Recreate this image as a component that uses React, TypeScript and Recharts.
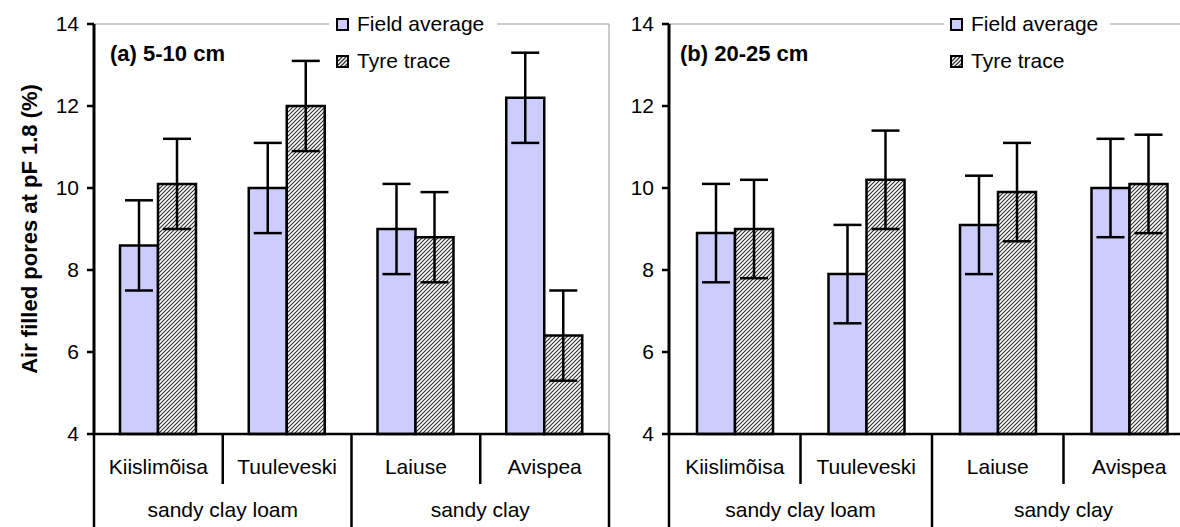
import React from 'react';
import { BarChart, Bar, XAxis, YAxis, ErrorBar, Legend, ReferenceArea } from 'recharts';

const categories = ['Kiislimõisa', 'Tuuleveski', 'Laiuse', 'Avispea'];
const groupLabels = ['sandy clay loam', 'sandy clay'];
const groupSizes = [2, 2];
const yTicks = [4, 6, 8, 10, 12, 14];
const seriesNames = ['Field average', 'Tyre trace'];
const panelTitles = ['(a) 5-10 cm', '(b) 20-25 cm'];
const yAxisTitle = 'Air filled pores at pF 1.8 (%)';

const aField = [8.6, 10.0, 9.0, 12.2];
const aFieldErr = [1.1, 1.1, 1.1, 1.1];
const aTyre = [10.1, 12.0, 8.8, 6.4];
const aTyreErr = [1.1, 1.1, 1.1, 1.1];

const bField = [8.9, 7.9, 9.1, 10.0];
const bFieldErr = [1.2, 1.2, 1.2, 1.2];
const bTyre = [9.0, 10.2, 9.9, 10.1];
const bTyreErr = [1.2, 1.2, 1.2, 1.2];

const FONT = '"Liberation Sans", Arial, Helvetica, sans-serif';
const FS = 21;
const FSB = 22;

const build = (f: number[], fe: number[], t: number[], te: number[]) =>
  categories.map((name, i) => ({ name, field: f[i], fieldErr: fe[i], tyre: t[i], tyreErr: te[i] }));

const dataA = build(aField, aFieldErr, aTyre, aTyreErr);
const dataB = build(bField, bFieldErr, bTyre, bTyreErr);

const groupStarts = groupSizes.map((_, g) => groupSizes.slice(0, g).reduce((s, v) => s + v, 0));

const makeTick = (fallbackHalf: number) => (props: any) => {
  const { x, y, payload } = props;
  const i: number = props.index ?? payload.index ?? 0;
  const half: number = payload && payload.offset ? payload.offset : fallbackHalf;
  const bw = half * 2;
  const left = x - half;
  const gi = groupStarts.indexOf(i);
  const isLast = i === categories.length - 1;
  return (
    <g>
      <line x1={left} y1={y} x2={left} y2={y + (gi >= 0 ? 100 : 50)} stroke="#000" strokeWidth={2.5} />
      {isLast && <line x1={x + half} y1={y} x2={x + half} y2={y + 100} stroke="#000" strokeWidth={2.5} />}
      <text x={x} y={y + 40} textAnchor="middle" fontSize={FS} fill="#000" fontFamily={FONT}>
        {payload.value}
      </text>
      {gi >= 0 && (
        <text x={left + (groupSizes[gi] * bw) / 2} y={y + 83} textAnchor="middle" fontSize={FS} fill="#000" fontFamily={FONT}>
          {groupLabels[gi]}
        </text>
      )}
    </g>
  );
};

const Swatch = ({ hatch, id }: { hatch: boolean; id: string }) => (
  <svg width={13} height={13} style={{ marginRight: 8, display: 'block' }}>
    <defs>
      <pattern id={id} patternUnits="userSpaceOnUse" width={4} height={4}>
        <rect width={4} height={4} fill="#fff" />
        <path d="M-1,1 l2,-2 M0,4 l4,-4 M3,5 l2,-2" stroke="#333" strokeWidth={1.3} />
      </pattern>
    </defs>
    <rect x={1} y={1} width={11} height={11} fill={hatch ? `url(#${id})` : '#CCCCFF'} stroke="#000" strokeWidth={2} />
  </svg>
);

const makeLegend = (prefix: string, padLeft: number) => (props: any) => {
  const payload = props.payload || [];
  return (
    <div style={{ background: '#fff', paddingLeft: padLeft, fontFamily: FONT, fontSize: FS, color: '#000' }}>
      {payload.map((e: any, i: number) => (
        <div key={i} style={{ display: 'flex', alignItems: 'center', height: 37, whiteSpace: 'nowrap' }}>
          <Swatch hatch={i === 1} id={`${prefix}-sw-${i}`} />
          <span>{e.value}</span>
        </div>
      ))}
    </div>
  );
};

const YTitle = (props: any) => {
  const vb = props.viewBox || { x: 0, y: 24, width: 94, height: 410 };
  const cx = vb.x + 29;
  const cy = vb.y + vb.height / 2;
  return (
    <text
      x={cx}
      y={cy}
      transform={`rotate(-90, ${cx}, ${cy})`}
      textAnchor="middle"
      dominantBaseline="central"
      fontSize={FSB}
      fontWeight="bold"
      fill="#000"
      fontFamily={FONT}
    >
      {yAxisTitle}
    </text>
  );
};

type PanelProps = {
  data: any[];
  left: number;
  width: number;
  yWidth: number;
  right: number;
  plotW: number;
  showTitle: boolean;
  hatchId: string;
  legendLeft: number;
  legendPad: number;
  legendWidth: number;
};

const Panel = (p: PanelProps) => (
  <div style={{ position: 'absolute', left: p.left, top: 0 }}>
    <BarChart
      width={p.width}
      height={527}
      data={p.data}
      margin={{ top: 24, right: p.right, left: 0, bottom: 0 }}
      barGap={0}
    >
      <defs>
        <pattern id={p.hatchId} patternUnits="userSpaceOnUse" width={4} height={4}>
          <rect width={4} height={4} fill="#fff" />
          <path d="M-1,1 l2,-2 M0,4 l4,-4 M3,5 l2,-2" stroke="#333" strokeWidth={1.2} />
        </pattern>
      </defs>
      <ReferenceArea
        y1={4}
        y2={14}
        fill="#fff"
        fillOpacity={0}
        stroke="#999"
        strokeWidth={1}
        ifOverflow="visible"
      />
      <XAxis
        dataKey="name"
        height={93}
        interval={0}
        tickSize={0}
        tickMargin={0}
        tickLine={false}
        axisLine={{ stroke: '#000', strokeWidth: 2.5 }}
        tick={makeTick(p.plotW / categories.length / 2)}
      />
      <YAxis
        domain={[4, 14]}
        ticks={yTicks}
        interval={0}
        width={p.yWidth}
        tickSize={7}
        tickMargin={8}
        axisLine={{ stroke: '#000', strokeWidth: 3 }}
        tickLine={{ stroke: '#000', strokeWidth: 2.5 }}
        tick={{ fontSize: FS, fill: '#000', fontFamily: FONT }}
        label={p.showTitle ? <YTitle /> : undefined}
      />
      <Legend
        layout="vertical"
        align="center"
        verticalAlign="middle"
        wrapperStyle={{ position: 'absolute', left: p.legendLeft, top: 5.5, width: p.legendWidth, height: 'auto' }}
        content={makeLegend(p.hatchId, p.legendPad)}
      />
      <Bar
        dataKey="field"
        name={seriesNames[0]}
        fill="#CCCCFF"
        stroke="#000"
        strokeWidth={2.5}
        barSize={38}
        isAnimationActive={false}
      >
        <ErrorBar dataKey="fieldErr" width={14} stroke="#000" strokeWidth={2.5} isAnimationActive={false} />
      </Bar>
      <Bar
        dataKey="tyre"
        name={seriesNames[1]}
        fill={`url(#${p.hatchId})`}
        stroke="#000"
        strokeWidth={2.5}
        barSize={38}
        isAnimationActive={false}
      >
        <ErrorBar dataKey="tyreErr" width={14} stroke="#000" strokeWidth={2.5} isAnimationActive={false} />
      </Bar>
    </BarChart>
  </div>
);

const Title = ({ text, left }: { text: string; left: number }) => (
  <div
    style={{
      position: 'absolute',
      left,
      top: 43,
      fontFamily: FONT,
      fontSize: FSB,
      fontWeight: 'bold',
      lineHeight: '22px',
      color: '#000',
      whiteSpace: 'nowrap',
    }}
  >
    {text}
  </div>
);

export default function App() {
  return (
    <div
      style={{
        position: 'absolute',
        left: 0,
        top: 0,
        width: 1180,
        height: 527,
        overflow: 'hidden',
        background: '#fff',
        fontFamily: FONT,
      }}
    >
      <Panel
        data={dataA}
        left={0}
        width={612}
        yWidth={94}
        right={3}
        plotW={515}
        showTitle={true}
        hatchId="hatchA"
        legendLeft={329}
        legendPad={7}
        legendWidth={168}
      />
      <Panel
        data={dataB}
        left={612}
        width={600}
        yWidth={57}
        right={17}
        plotW={526}
        showTitle={false}
        hatchId="hatchB"
        legendLeft={332}
        legendPad={6}
        legendWidth={166}
      />
      <Title text={panelTitles[0]} left={110} />
      <Title text={panelTitles[1]} left={680} />
    </div>
  );
}
